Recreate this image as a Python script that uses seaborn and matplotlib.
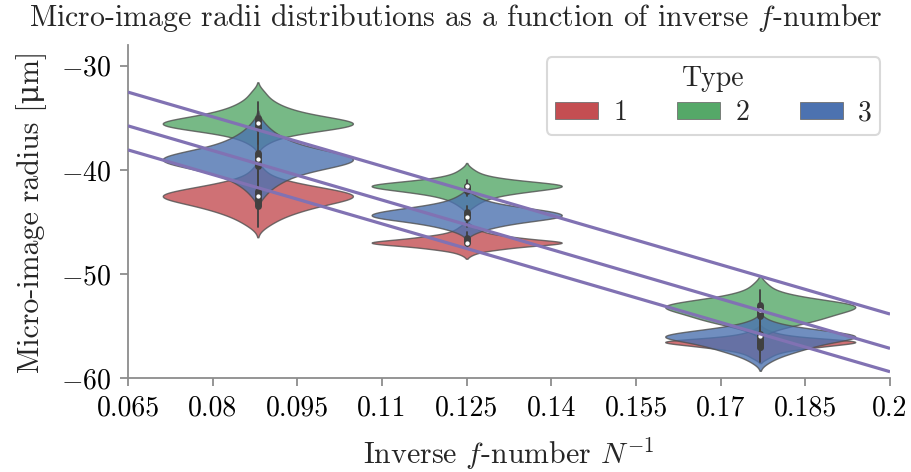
import numpy as np
import pandas as pd
import matplotlib
matplotlib.use("Agg")
import matplotlib.pyplot as plt
from matplotlib.patches import Patch
import seaborn as sns

# ---------------- data ----------------
inv_fnumber = [0.088, 0.125, 0.177]
type_labels = ["1", "2", "3"]

# radius values (µm) and how many micro-images fall there, per (f-number, type)
r_x1_t1 = [-40.0, -40.5, -41.0, -41.5, -42.0, -42.5, -43.0, -43.5, -44.0, -44.5, -45.0, -45.5]
n_x1_t1 = [1, 1, 3, 6, 10, 14, 10, 7, 5, 3, 2, 1]
r_x1_t2 = [-32.5, -33.0, -33.5, -34.0, -34.5, -35.0, -35.5, -36.0, -36.5, -37.0, -37.5]
n_x1_t2 = [1, 1, 2, 3, 5, 8, 14, 10, 4, 2, 1]
r_x1_t3 = [-35.5, -36.0, -36.5, -37.0, -37.5, -38.0, -38.5, -39.0, -39.5, -40.0, -40.5, -41.0, -41.5, -42.0, -42.5]
n_x1_t3 = [1, 1, 2, 3, 4, 6, 10, 14, 10, 6, 4, 3, 2, 1, 1]

r_x2_t1 = [-45.5, -46.0, -46.5, -47.0, -47.5, -48.0]
n_x2_t1 = [1, 2, 6, 14, 5, 1]
r_x2_t2 = [-40.0, -40.5, -41.0, -41.5, -42.0, -42.5, -43.0, -43.5]
n_x2_t2 = [1, 2, 6, 16, 9, 4, 2, 1]
r_x2_t3 = [-42.5, -43.0, -43.5, -44.0, -44.5, -45.0, -45.5, -46.0]
n_x2_t3 = [1, 2, 5, 10, 12, 6, 3, 1]

r_x3_t1 = [-55.5, -56.0, -56.5, -57.0, -57.5, -58.0]
n_x3_t1 = [1, 3, 12, 6, 2, 1]
r_x3_t2 = [-51.0, -51.5, -52.0, -52.5, -53.0, -53.5, -54.0, -54.5, -55.0, -55.5]
n_x3_t2 = [1, 1, 3, 6, 12, 9, 7, 6, 3, 1]
r_x3_t3 = [-54.5, -55.0, -55.5, -56.0, -56.5, -57.0, -57.5, -58.0, -58.5]
n_x3_t3 = [1, 3, 8, 14, 8, 6, 4, 2, 1]

# model lines (values at the two ends of the x range)
line_x = [0.065, 0.2]
line_a = [-32.53, -53.85]
line_b = [-35.77, -57.15]
line_c = [-38.08, -59.39]

xtick_vals = [0.065, 0.08, 0.095, 0.11, 0.125, 0.14, 0.155, 0.17, 0.185, 0.2]
xtick_labels = ["0.065", "0.08", "0.095", "0.11", "0.125", "0.14", "0.155", "0.17", "0.185", "0.2"]
ytick_vals = [-30, -40, -50, -60]
ytick_labels = [r"$-30$", r"$-40$", r"$-50$", r"$-60$"]

# ---------------- build table ----------------
groups = [
    (inv_fnumber[0], "1", r_x1_t1, n_x1_t1), (inv_fnumber[0], "2", r_x1_t2, n_x1_t2), (inv_fnumber[0], "3", r_x1_t3, n_x1_t3),
    (inv_fnumber[1], "1", r_x2_t1, n_x2_t1), (inv_fnumber[1], "2", r_x2_t2, n_x2_t2), (inv_fnumber[1], "3", r_x2_t3, n_x2_t3),
    (inv_fnumber[2], "1", r_x3_t1, n_x3_t1), (inv_fnumber[2], "2", r_x3_t2, n_x3_t2), (inv_fnumber[2], "3", r_x3_t3, n_x3_t3),
]
rows = []
for xv, t, r, n in groups:
    for val in np.repeat(r, n):
        rows.append({"inv_f": xv, "radius": val, "Type": t})
df = pd.DataFrame(rows)

# ---------------- style ----------------
sns.set_theme(style="ticks")
sns.set_color_codes("deep")
plt.rcParams["font.family"] = ["cmr10", "DejaVu Serif"]
plt.rcParams["mathtext.fontset"] = "cm"
plt.rcParams["axes.formatter.use_mathtext"] = True

palette = {"1": "r", "2": "g", "3": "b"}
spine_col = "#8c8c8c"

fig = plt.figure(figsize=(9.11, 4.72), dpi=100)
ax = fig.add_axes([0.1405, 0.199, 0.8365, 0.7057])

sns.violinplot(data=df, x="inv_f", y="radius", hue="Type", hue_order=type_labels,
               palette=palette, native_scale=True, orient="x", dodge=False,
               density_norm="width", width=0.91, saturation=1, alpha=0.8,
               linewidth=1.0, linecolor="#505050", inner="box",
               inner_kws=dict(box_width=5, whis_width=1.3, color="#404040", marker="."),
               legend=False, ax=ax)

for ly in (line_a, line_b, line_c):
    ax.plot(line_x, ly, color="m", lw=2.3, zorder=5, solid_capstyle="butt")

ax.set_xlim(0.065, 0.2)
ax.set_ylim(-60, -28)
ax.set_xticks(xtick_vals)
ax.set_xticklabels(xtick_labels)
ax.set_yticks(ytick_vals)
ax.set_yticklabels(ytick_labels)

for side in ("top", "right"):
    ax.spines[side].set_visible(False)
for side in ("left", "bottom"):
    ax.spines[side].set_color(spine_col)
    ax.spines[side].set_linewidth(1.3)
ax.tick_params(axis="both", colors=spine_col, labelcolor="black", length=6, width=1.3,
               labelsize=20, pad=6)

fig.suptitle(r"Micro-image radii distributions as a function of inverse $f$-number",
             fontsize=21.5, x=0.5, y=0.995, va="top")
ax.set_xlabel(r"Inverse $f$-number $N^{-1}$", fontsize=21.5, labelpad=10)
ax.set_ylabel("Micro-image radius [\u03bcm]", fontsize=21.5, labelpad=10)

handles = [Patch(facecolor=palette[t], edgecolor="#707070", linewidth=0.6, label=t) for t in type_labels]
leg = ax.legend(handles=handles, title="Type", ncol=3, loc="upper right",
                bbox_to_anchor=(0.987, 0.964), borderaxespad=0.0,
                fontsize=20, title_fontsize=20,
                handlelength=1.55, handleheight=0.55, columnspacing=1.8,
                handletextpad=0.55, frameon=True, fancybox=True, borderpad=0.3,
                labelspacing=0.3)
leg.get_frame().set_edgecolor("#d0d0d0")
leg.get_frame().set_linewidth(1.5)

fig.savefig("out.png", dpi=100)
